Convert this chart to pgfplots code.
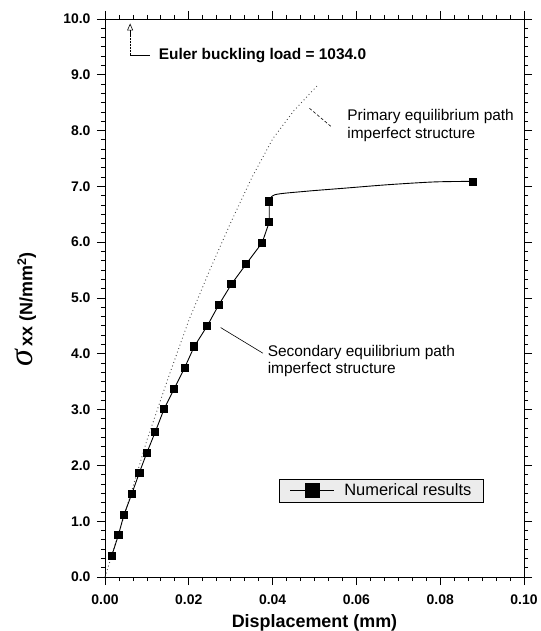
\documentclass[border=0pt]{standalone}
\usepackage{fontspec}
\setmainfont{Liberation Sans}
\newfontfamily\sigfont{Liberation Serif}
\usepackage{pgfplots}
\pgfplotsset{compat=1.18}
\usetikzlibrary{patterns,arrows.meta,calc}
\begin{document}
\begin{tikzpicture}[x=1bp,y=1bp]
\begin{axis}[
  name=ax,
  width=419bp, height=558bp, scale only axis,
  xmin=0, xmax=0.1, ymin=0, ymax=10,
  xtick={0,0.02,0.04,0.06,0.08,0.1},
  ytick={0,1,...,10},
  minor x tick num=5, minor y tick num=5,
  tick align=outside,
  major tick length=8bp, minor tick length=4bp,
  tick style={black, line width=0.8pt},
  axis line style={line width=0.9pt},
  xticklabel style={/pgf/number format/.cd, fixed, fixed zerofill, precision=2, /tikz/.cd, font=\fontsize{14}{16}\selectfont\bfseries, yshift=-6bp},
  yticklabel style={/pgf/number format/.cd, fixed, fixed zerofill, precision=1, /tikz/.cd, font=\fontsize{14}{16}\selectfont\bfseries, xshift=-3bp},
  /pgf/number format/assume math mode=true,
  scaled x ticks=false,
  xlabel={Displacement (mm)},
  xlabel style={font=\fontsize{18}{20}\selectfont\bfseries, at={(axis description cs:0.5,-0.082)}, anchor=center},
  ylabel={{\sigfont\itshape\mdseries\fontsize{34}{36}\selectfont σ}\,xx (N/mm$^{\mathbf{2}}$)},
  ylabel style={font=\fontsize{18}{20}\selectfont\bfseries, at={(axis description cs:-0.19,0.48)}, anchor=center, rotate=0},
  legend style={at={(0.66,0.155)}, anchor=center, draw=black, line width=0.6pt,
    fill=gray!15, font=\fontsize{16.5}{18}\selectfont, inner ysep=3bp, inner xsep=10bp},
  legend image code/.code={\draw[mark repeat=2,mark phase=2,#1] plot coordinates {(0bp,0bp) (22bp,0bp) (44bp,0bp)};},
  legend image post style={mark size=7bp, line width=0.6pt},
  legend cell align=left,
  clip=false,
]
% primary equilibrium path (dotted)
\addplot[gray!60!black, line width=0.9pt, dash pattern=on 0.9pt off 2.8pt, forget plot] coordinates {
 (0,0) (0.005,1.2) (0.010,2.45) (0.015,3.55) (0.020,4.6) (0.025,5.5)
 (0.030,6.35) (0.035,7.15) (0.040,7.85) (0.045,8.35) (0.0506,8.8)};
% secondary path curve (continuation, no marks)
\addplot[black, line width=0.9pt, smooth, forget plot] coordinates {
 (0.0392,6.73) (0.0405,6.85) (0.0476,6.91) (0.0575,6.97) (0.0675,7.03) (0.0786,7.08) (0.0877,7.09)};
% numerical results
\addplot[black, line width=0.9pt, mark=square*, mark size=3.6bp, mark options={solid}] coordinates {
 (0.0016,0.38) (0.0032,0.75) (0.0045,1.11) (0.0064,1.49) (0.0082,1.87)
 (0.0100,2.23) (0.0120,2.60) (0.0141,3.01) (0.0165,3.37) (0.0190,3.75)
 (0.0213,4.13) (0.0244,4.50) (0.0271,4.87) (0.0302,5.25) (0.0337,5.61)
 (0.0375,5.99) (0.0392,6.36) (0.0392,6.73)};
\addlegendentry{\hspace{8bp}Numerical results}
\addplot[black, only marks, mark=square*, mark size=3.6bp, forget plot] coordinates {(0.0877,7.09)};
% annotations
\draw[black, line width=0.6pt, dash pattern=on 2pt off 1pt] (axis cs:0.006,9.35) -- (axis cs:0.006,9.72);
\draw[black, line width=0.6pt, -{Triangle[open,length=7bp,width=6bp]}] (axis cs:0.006,9.70) -- (axis cs:0.006,9.92);
\draw[black, line width=0.6pt] (axis cs:0.006,9.35) -- (axis cs:0.0108,9.35);
\node[anchor=west, font=\fontsize{15.5}{17}\selectfont\bfseries, inner sep=0pt] at (axis cs:0.0128,9.35) {Euler buckling load = 1034.0};
\draw[black, line width=0.6pt, dash pattern=on 3pt off 2pt] (axis cs:0.0488,8.40) -- (axis cs:0.054,8.07);
\node[anchor=north west, align=left, font=\fontsize{15.5}{18}\selectfont, inner sep=0pt] at (axis cs:0.0578,8.39) {Primary equilibrium path\\imperfect structure};
\draw[black, line width=0.6pt] (axis cs:0.0276,4.47) -- (axis cs:0.0377,4.01);
\node[anchor=north west, align=left, font=\fontsize{15.5}{17}\selectfont, inner sep=0pt] at (axis cs:0.0388,4.16) {Secondary equilibrium path\\imperfect structure};
\end{axis}
\pgfresetboundingbox
\path ($(ax.south west)+(-105bp,-54bp)$) rectangle ($(ax.north east)+(17bp,19bp)$);
\end{tikzpicture}
\end{document}
